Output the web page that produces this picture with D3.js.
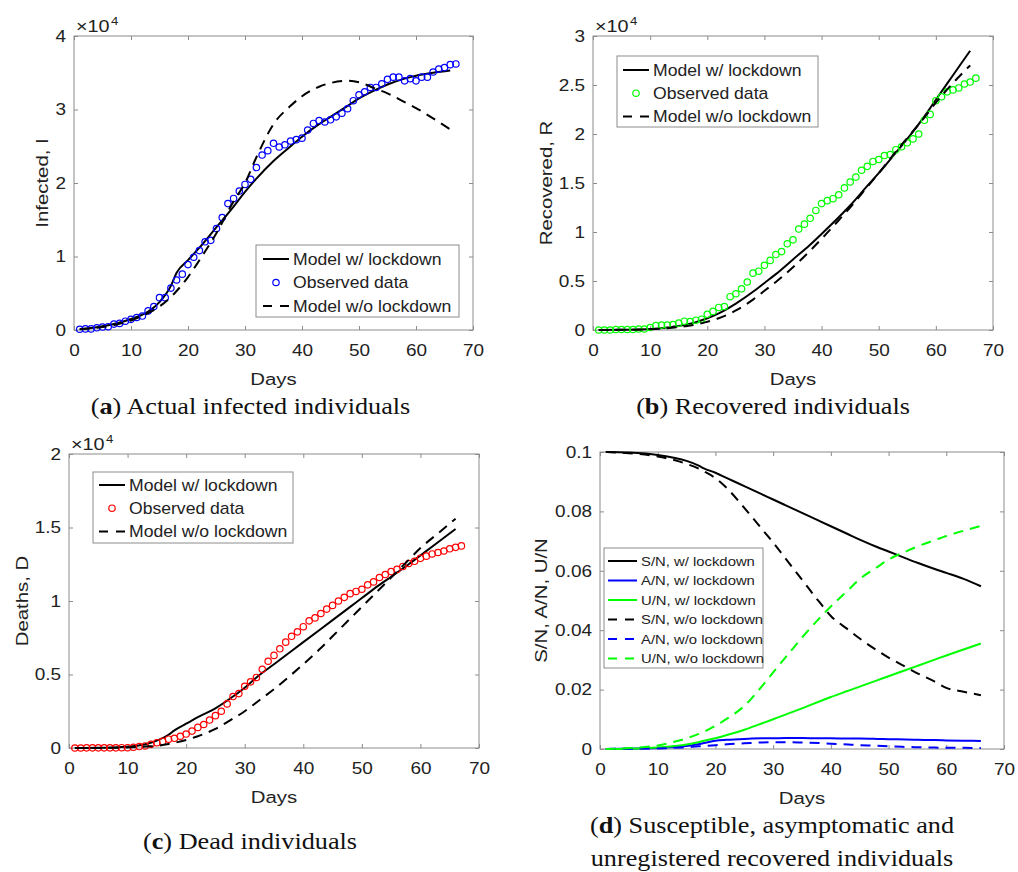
<!DOCTYPE html>
<html><head><meta charset="utf-8">
<script src="https://cdn.jsdelivr.net/npm/d3@7"></script>
<style>body{margin:0;background:#fff}</style>
</head><body><svg id="c" width="1018" height="872"></svg>
<script>
// ---------------- DATA ----------------
const days = [1,2,3,4,5,6,7,8,9,10,11,12,13,14,15,16,17,18,19,20,21,22,23,24,25,26,27,28,29,30,31,32,33,34,35,36,37,38,39,40,41,42,43,44,45,46,47,48,49,50,51,52,53,54,55,56,57,58,59,60,61,62,63,64,65,66,67];
const modelDays = [1,5,10,13,15,17,18,20,22,25,28,30,32,35,38,40,43,45,48,50,53,55,58,60,63,66];

// (a) Infected, x10^4
const infectedObs = [0.01,0.015,0.015,0.03,0.04,0.045,0.08,0.09,0.12,0.145,0.17,0.19,0.26,0.32,0.44,0.44,0.57,0.68,0.76,0.89,0.99,1.08,1.20,1.22,1.38,1.53,1.72,1.79,1.89,1.98,2.05,2.21,2.38,2.44,2.54,2.49,2.52,2.57,2.59,2.61,2.72,2.81,2.85,2.83,2.86,2.90,2.95,3.01,3.12,3.20,3.24,3.30,3.30,3.35,3.41,3.44,3.44,3.39,3.42,3.39,3.44,3.44,3.51,3.55,3.57,3.61,3.62];
const infectedLock = [0.01,0.05,0.15,0.25,0.38,0.60,0.78,0.95,1.12,1.40,1.68,1.88,2.06,2.30,2.50,2.63,2.80,2.90,3.05,3.15,3.27,3.34,3.42,3.46,3.50,3.53];
const infectedNoLock = [0.01,0.04,0.13,0.23,0.32,0.45,0.53,0.72,0.95,1.32,1.75,2.00,2.35,2.80,3.05,3.18,3.31,3.36,3.39,3.37,3.28,3.22,3.10,3.02,2.88,2.73];

// (b) Recovered, x10^4
const recoveredObs = [0,0,0,0.005,0.005,0.005,0.005,0.01,0.01,0.025,0.045,0.05,0.05,0.055,0.07,0.09,0.085,0.10,0.11,0.16,0.19,0.23,0.24,0.34,0.37,0.42,0.49,0.58,0.60,0.66,0.71,0.77,0.80,0.88,0.92,1.03,1.08,1.14,1.22,1.29,1.32,1.34,1.38,1.45,1.51,1.56,1.63,1.67,1.72,1.74,1.78,1.79,1.84,1.87,1.91,1.95,2.00,2.14,2.20,2.34,2.38,2.43,2.45,2.47,2.51,2.53,2.57];
const recoveredLock = [0,0.002,0.01,0.025,0.04,0.065,0.08,0.12,0.17,0.27,0.39,0.48,0.57,0.72,0.87,0.98,1.15,1.27,1.47,1.60,1.81,1.95,2.18,2.35,2.60,2.85];
const recoveredNoLock = [0,0.002,0.008,0.018,0.03,0.045,0.055,0.085,0.12,0.20,0.31,0.40,0.49,0.64,0.81,0.93,1.12,1.25,1.46,1.60,1.82,1.96,2.17,2.32,2.52,2.70];

// (c) Deaths, x10^4
const deathsObs = [0,0,0.001,0.001,0.001,0.001,0.001,0.001,0.002,0.002,0.005,0.01,0.014,0.025,0.036,0.045,0.06,0.066,0.08,0.095,0.115,0.14,0.16,0.19,0.22,0.25,0.30,0.35,0.37,0.42,0.45,0.48,0.535,0.59,0.63,0.675,0.72,0.76,0.79,0.825,0.865,0.885,0.915,0.945,0.97,1.0,1.025,1.05,1.065,1.08,1.11,1.13,1.16,1.18,1.20,1.215,1.235,1.255,1.27,1.29,1.305,1.32,1.33,1.34,1.355,1.365,1.375];
const deathsLock = [0,0.001,0.008,0.025,0.05,0.09,0.12,0.165,0.21,0.27,0.35,0.41,0.48,0.57,0.66,0.72,0.81,0.87,0.96,1.02,1.11,1.165,1.25,1.31,1.40,1.49];
const deathsNoLock = [0,0.0005,0.004,0.01,0.015,0.027,0.035,0.055,0.08,0.13,0.20,0.25,0.31,0.40,0.50,0.57,0.68,0.76,0.88,0.96,1.08,1.16,1.28,1.36,1.46,1.56];

// (d) fractions
const sLock = [0.1,0.0998,0.099,0.098,0.097,0.0955,0.0945,0.093,0.0912,0.0885,0.0858,0.084,0.0822,0.0795,0.0768,0.075,0.0723,0.0705,0.068,0.0665,0.0642,0.0627,0.0606,0.0593,0.0573,0.0548];
const aLock = [0,0.0001,0.0003,0.0007,0.001,0.0016,0.002,0.0028,0.0031,0.0034,0.0036,0.0036,0.0037,0.0037,0.0036,0.0036,0.0035,0.0035,0.0034,0.0033,0.0032,0.0031,0.003,0.0029,0.0028,0.0027];
const uLock = [0,0.0001,0.0005,0.001,0.0015,0.0023,0.0028,0.0036,0.0047,0.0065,0.0086,0.01,0.0115,0.0137,0.016,0.0175,0.0196,0.021,0.0231,0.0245,0.0266,0.028,0.0301,0.0315,0.0335,0.0355];
const sNoLock = [0.1,0.0996,0.0985,0.0972,0.096,0.0945,0.0935,0.0912,0.0878,0.0812,0.0742,0.0695,0.0645,0.057,0.0495,0.0448,0.0402,0.0372,0.0332,0.0308,0.0276,0.0255,0.0227,0.0206,0.0193,0.0181];
const aNoLock = [0,0.0001,0.0002,0.0004,0.0006,0.0009,0.001,0.0013,0.0016,0.0019,0.0022,0.0023,0.0023,0.0022,0.002,0.0018,0.0015,0.0013,0.0011,0.0009,0.0007,0.0006,0.0005,0.0004,0.0004,0.0003];
const uNoLock = [0,0.0003,0.0012,0.0025,0.0036,0.005,0.0058,0.0078,0.0102,0.0145,0.021,0.0258,0.0305,0.0375,0.044,0.048,0.0535,0.0572,0.0612,0.0638,0.0665,0.0682,0.0703,0.0717,0.0735,0.0751];

// ticks and labels
const xTicks = [0,10,20,30,40,50,60,70];
const infectedTicks = [0,1,2,3,4];
const infectedTickLabels = ["0","1","2","3","4"];
const recoveredTicks = [0,0.5,1,1.5,2,2.5,3];
const recoveredTickLabels = ["0","0.5","1","1.5","2","2.5","3"];
const deathsTicks = [0,0.5,1,1.5,2];
const deathsTickLabels = ["0","0.5","1","1.5","2"];
const fracTicks = [0,0.02,0.04,0.06,0.08,0.1];
const fracTickLabels = ["0","0.02","0.04","0.06","0.08","0.1"];
const legendABC = ["Model w/ lockdown","Observed data","Model w/o lockdown"];
const legendD = ["S/N, w/ lockdown","A/N, w/ lockdown","U/N, w/ lockdown","S/N, w/o lockdown","A/N, w/o lockdown","U/N, w/o lockdown"];

// ---------------- DRAW ----------------
const SANS = "'Liberation Sans', Arial, Helvetica, sans-serif";
const SERIF = "'Liberation Serif', 'Times New Roman', serif";
const BOX = "#8c8c8c";
const TXT = "#222";
const DASH = "10,7";
const svg = d3.select("#c");

function txt(parent, x, y, s, o) {
  const t = parent.append("text")
    .attr("transform", `translate(${x},${y})` + (o.rot ? ` rotate(${o.rot})` : "") + ` scale(${o.sx || 1},1)`)
    .attr("text-anchor", o.anchor || "start")
    .style("font-family", o.family || SANS)
    .style("font-size", o.size + "px")
    .attr("fill", o.fill || TXT);
  if (o.dy) t.attr("dy", o.dy);
  if (s !== null) t.text(s);
  return t;
}

function styleAxis(sel, withText) {
  sel.attr("font-size", null).attr("font-family", null);
  sel.select(".domain").remove();
  sel.selectAll(".tick line").attr("stroke", BOX);
  if (!withText) sel.selectAll(".tick text").remove();
}

function panel(cfg) {
  const x = d3.scaleLinear().domain([0, 70]).range([cfg.l, cfg.r]);
  const y = d3.scaleLinear().domain(cfg.yDomain).range([cfg.b, cfg.t]);
  const g = svg.append("g");

  g.append("rect").attr("x", cfg.l).attr("y", cfg.t).attr("width", cfg.r - cfg.l).attr("height", cfg.b - cfg.t)
    .attr("fill", "#fff").attr("stroke", BOX).attr("stroke-width", 1);

  const ax = g.append("g").attr("transform", `translate(0,${cfg.b})`)
    .call(d3.axisBottom(x).tickValues(xTicks).tickSize(-4).tickPadding(14).tickFormat(d => String(d)));
  styleAxis(ax, true);
  ax.selectAll(".tick text").each(function () {
    const t = d3.select(this);
    const yy = +t.attr("y");
    t.attr("y", 0).attr("transform", `translate(0,${yy}) scale(1.15,1)`)
      .style("font-family", SANS).style("font-size", "16.5px").attr("fill", TXT);
  });
  styleAxis(g.append("g").attr("transform", `translate(0,${cfg.t})`)
    .call(d3.axisTop(x).tickValues(xTicks).tickSize(-4)), false);

  const ay = g.append("g").attr("transform", `translate(${cfg.l},0)`)
    .call(d3.axisLeft(y).tickValues(cfg.yTicks).tickSize(-4).tickPadding(8).tickFormat((d, i) => cfg.yLabels[i]));
  styleAxis(ay, true);
  ay.selectAll(".tick text").each(function () {
    const t = d3.select(this);
    const xx = +t.attr("x");
    t.attr("x", 0).attr("transform", `translate(${xx},0) scale(1.15,1)`)
      .style("font-family", SANS).style("font-size", "16.5px").attr("fill", TXT);
  });
  styleAxis(g.append("g").attr("transform", `translate(${cfg.r},0)`)
    .call(d3.axisRight(y).tickValues(cfg.yTicks).tickSize(-4)), false);

  if (cfg.exp) {
    txt(g, cfg.l + 2, cfg.t - 4, "\u00d710", { size: 16.5, sx: 1.2 });
    txt(g, cfg.l + 37, cfg.t - 11, cfg.exp, { size: 11.5, sx: 1.15 });
  }

  txt(g, (cfg.l + cfg.r) / 2, cfg.b + 55, "Days", { size: 17, sx: 1.2, anchor: "middle" });
  txt(g, cfg.l - cfg.ylOff, (cfg.t + cfg.b) / 2, cfg.yTitle, { size: 17, sx: 1.2, anchor: "middle", rot: -90 });

  const line = d3.line().x(d => x(d[0])).y(d => y(d[1])).curve(d3.curveMonotoneX);
  cfg.series.forEach(s => {
    if (s.obs) {
      g.append("g").selectAll("circle").data(d3.zip(days, s.values)).join("circle")
        .attr("cx", d => x(d[0])).attr("cy", d => y(d[1])).attr("r", 3.2)
        .attr("fill", "none").attr("stroke", s.color).attr("stroke-width", 1.2);
    } else {
      g.append("path").datum(d3.zip(modelDays, s.values)).attr("d", line)
        .attr("fill", "none").attr("stroke", s.color).attr("stroke-width", 2)
        .attr("stroke-dasharray", s.dash ? DASH : null);
    }
  });

  const L = cfg.legend;
  const lg = g.append("g");
  lg.append("rect").attr("x", L.x).attr("y", L.y).attr("width", L.w).attr("height", L.h)
    .attr("fill", "#fff").attr("stroke", BOX).attr("stroke-width", 1);
  L.items.forEach((it, i) => {
    const yy = L.y + L.first + i * L.step;
    if (it.obs) {
      lg.append("circle").attr("cx", L.x + L.pad + L.len / 2).attr("cy", yy).attr("r", 3.2)
        .attr("fill", "none").attr("stroke", it.color).attr("stroke-width", 1.2);
    } else {
      lg.append("line").attr("x1", L.x + L.pad).attr("x2", L.x + L.pad + L.len).attr("y1", yy).attr("y2", yy)
        .attr("stroke", it.color).attr("stroke-width", 2).attr("stroke-dasharray", it.dash ? "9,8" : null);
    }
    txt(lg, L.x + L.pad + L.len + 4, yy, it.label, { size: L.size, sx: 1.1, dy: "0.35em" });
  });

  cfg.caption.forEach((c, i) => {
    const t = txt(g, (cfg.l + cfg.r) / 2 + cfg.capDx, cfg.capY + i * 33, null,
      { size: 23, sx: 1.14, anchor: "middle", family: SERIF, fill: "#111" });
    if (c.letter) {
      t.append("tspan").text("(");
      t.append("tspan").attr("font-weight", "bold").text(c.letter);
      t.append("tspan").text(") " + c.text);
    } else {
      t.text(c.text);
    }
  });
}

const sers = (obsVals, lockVals, noLockVals, col) => [
  { values: lockVals, color: "#000" },
  { values: obsVals, color: col, obs: true },
  { values: noLockVals, color: "#000", dash: true }
];
const legItems = col => [
  { label: legendABC[0], color: "#000" },
  { label: legendABC[1], color: col, obs: true },
  { label: legendABC[2], color: "#000", dash: true }
];

panel({
  l: 74, r: 473, t: 36, b: 330, yDomain: [0, 4], yTicks: infectedTicks, yLabels: infectedTickLabels,
  exp: "4", yTitle: "Infected, I", ylOff: 26,
  series: sers(infectedObs, infectedLock, infectedNoLock, "#0000ff"),
  legend: { x: 256, y: 245, w: 203, h: 72, first: 14, step: 23.5, pad: 7, len: 26, size: 16, items: legItems("#0000ff") },
  caption: [{ letter: "a", text: "Actual infected individuals" }], capY: 414, capDx: -23
});
panel({
  l: 593, r: 993, t: 36, b: 330, yDomain: [0, 3], yTicks: recoveredTicks, yLabels: recoveredTickLabels,
  exp: "4", yTitle: "Recovered, R", ylOff: 41,
  series: sers(recoveredObs, recoveredLock, recoveredNoLock, "#00ff00"),
  legend: { x: 617, y: 56, w: 201, h: 71, first: 14, step: 23.2, pad: 6, len: 26, size: 16, items: legItems("#00ff00") },
  caption: [{ letter: "b", text: "Recovered individuals" }], capY: 414, capDx: -20
});
panel({
  l: 69, r: 479, t: 454, b: 748, yDomain: [0, 2], yTicks: deathsTicks, yLabels: deathsTickLabels,
  exp: "4", yTitle: "Deaths, D", ylOff: 41,
  series: sers(deathsObs, deathsLock, deathsNoLock, "#ff0000"),
  legend: { x: 93, y: 472, w: 200, h: 71, first: 13, step: 23.2, pad: 6, len: 26, size: 16, items: legItems("#ff0000") },
  caption: [{ letter: "c", text: "Dead individuals" }], capY: 849, capDx: -24
});
panel({
  l: 600, r: 1004, t: 452, b: 749, yDomain: [0, 0.1], yTicks: fracTicks, yLabels: fracTickLabels,
  exp: null, yTitle: "S/N, A/N, U/N", ylOff: 53,
  series: [
    { values: sLock, color: "#000" }, { values: aLock, color: "#0000ff" }, { values: uLock, color: "#00ff00" },
    { values: sNoLock, color: "#000", dash: true }, { values: aNoLock, color: "#0000ff", dash: true }, { values: uNoLock, color: "#00ff00", dash: true }
  ],
  legend: { x: 604, y: 548, w: 159, h: 120, first: 13, step: 19.5, pad: 4, len: 29, size: 13.5,
    items: [
      { label: legendD[0], color: "#000" }, { label: legendD[1], color: "#0000ff" }, { label: legendD[2], color: "#00ff00" },
      { label: legendD[3], color: "#000", dash: true }, { label: legendD[4], color: "#0000ff", dash: true }, { label: legendD[5], color: "#00ff00", dash: true }
    ] },
  caption: [{ letter: "d", text: "Susceptible, asymptomatic and" }, { text: "unregistered recovered individuals" }], capY: 833, capDx: -30
});
</script></body></html>
